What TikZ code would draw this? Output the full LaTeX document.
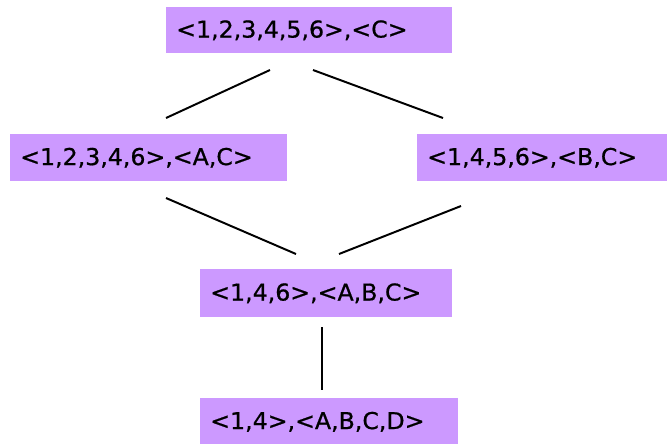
\documentclass[tikz,border=0pt]{standalone}
\usepackage{fontspec}
\setmainfont{DejaVu Sans}[FakeStretch=1.02,FakeBold=0.8]
\definecolor{lilac}{RGB}{204,153,255}

\begin{document}
\begin{tikzpicture}[x=0.025cm,y=-0.025cm,
        setbox/.style={fill=lilac,anchor=north west,inner xsep=10*0.025cm,inner ysep=0pt,
            align=left,font=\fontsize{16.5}{19}\selectfont}]
            \useasboundingbox (0,0) rectangle (669,443);
            \clip (0,0) rectangle (669,443);
            % boxes
            \node[setbox,text width=266*0.025cm,minimum height=46*0.025cm] (all) at (166,7) {<1,2,3,4,5,6>,<C>};
            \node[setbox,text width=257*0.025cm,minimum height=47*0.025cm] (ac) at (10,134) {<1,2,3,4,6>,<A,C>};
            \node[setbox,text width=230*0.025cm,minimum height=47*0.025cm] (bc) at (417,134) {<1,4,5,6>,<B,C>};
            \node[setbox,text width=232*0.025cm,minimum height=48*0.025cm] (abc) at (200,269) {<1,4,6>,<A,B,C>};
            \node[setbox,text width=238*0.025cm,minimum height=47*0.025cm] (abcd) at (200,398) {<1,4>,<A,B,C,D>};
            % line ends
            \coordinate (all-l) at (270,70);
            \coordinate (all-r) at (313,70);
            \coordinate (ac-up) at (166,118);
            \coordinate (bc-up) at (443,118);
            \coordinate (ac-dn) at (166,198);
            \coordinate (bc-dn) at (461,206);
            \coordinate (abc-l) at (296,254);
            \coordinate (abc-r) at (339,254);
            \coordinate (abc-dn) at (322,327);
            \coordinate (abcd-up) at (322,390);
            \draw[line width=1.4pt] (all-l) -- (ac-up);
            \draw[line width=1.4pt] (all-r) -- (bc-up);
            \draw[line width=1.4pt] (ac-dn) -- (abc-l);
            \draw[line width=1.4pt] (bc-dn) -- (abc-r);
            \draw[line width=1.4pt] (abc-dn) -- (abcd-up);
        \end{tikzpicture}
\end{document}
